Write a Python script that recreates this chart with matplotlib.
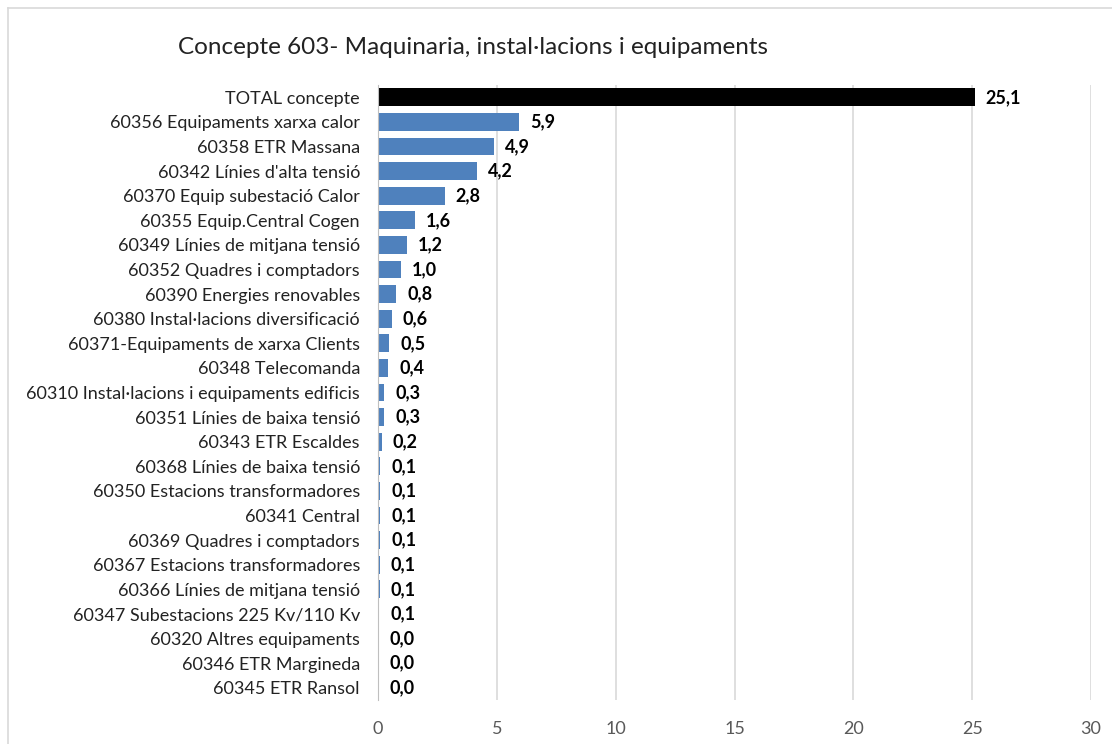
import matplotlib.pyplot as plt
from matplotlib.lines import Line2D
import numpy as np

plt.rcParams['font.family'] = ['Lato', 'DejaVu Sans']

categories = [
    'TOTAL concepte',
    '60356 Equipaments xarxa calor',
    '60358 ETR Massana',
    "60342 Línies d'alta tensió",
    '60370 Equip subestació Calor',
    '60355 Equip.Central Cogen',
    '60349 Línies de mitjana tensió',
    '60352 Quadres i comptadors',
    '60390 Energies renovables',
    '60380 Instal·lacions diversificació',
    '60371-Equipaments de xarxa Clients',
    '60348 Telecomanda',
    '60310 Instal·lacions i equipaments edificis',
    '60351 Línies de baixa tensió',
    '60343 ETR Escaldes',
    '60368 Línies de baixa tensió',
    '60350 Estacions transformadores',
    '60341 Central',
    '60369 Quadres i comptadors',
    '60367 Estacions transformadores',
    '60366 Línies de mitjana tensió',
    '60347 Subestacions 225 Kv/110 Kv',
    '60320 Altres equipaments',
    '60346 ETR Margineda',
    '60345 ETR Ransol',
]
values = [25.1, 5.92, 4.88, 4.16, 2.8, 1.56, 1.2, 0.96, 0.76, 0.58, 0.46, 0.42,
          0.27, 0.26, 0.16, 0.1, 0.09, 0.09, 0.08, 0.07, 0.07, 0.06, 0.01, 0.01, 0.0]
title = 'Concepte 603- Maquinaria, instal·lacions i equipaments'

fig = plt.figure(figsize=(11.12, 7.44), dpi=100)
ax = fig.add_axes([378 / 1112, 1 - 700 / 744, (1091 - 378) / 1112, (700 - 85) / 744])

y = np.arange(len(categories))
colors = ['black'] + ['#4F81BD'] * (len(categories) - 1)
bars = ax.barh(y, values, height=0.73, color=colors, zorder=3)

labels = [f'{v:.1f}'.replace('.', ',') for v in values]
ax.bar_label(bars, labels=labels, padding=8, fontsize=13, fontweight='bold', color='black')

ax.set_ylim(len(categories) - 0.5, -0.5)
ax.set_yticks(y)
ax.set_yticklabels(categories, fontsize=13, color='#222222')
ax.set_xlim(0, 30)
ax.set_xticks(range(0, 31, 5))
ax.tick_params(axis='x', labelsize=13, colors='#595959', length=0, pad=15)
ax.tick_params(axis='y', length=0, pad=13)
ax.grid(axis='x', color='#D9D9D9', linewidth=1.2, zorder=0)
for s in ['top', 'right', 'bottom']:
    ax.spines[s].set_visible(False)
ax.spines['left'].set_color('#BFBFBF')
ax.spines['left'].set_zorder(4)

fig.text(178 / 1112, 1 - 47 / 744, title, fontsize=17.5, va='center', ha='left', color='#222222')

# outer chart border
fig.add_artist(Line2D([8 / 1112, 1], [1 - 8 / 744] * 2, color='#D9D9D9', lw=1.2))
fig.add_artist(Line2D([8 / 1112] * 2, [0, 1 - 8 / 744], color='#D9D9D9', lw=1.2))

fig.savefig('out.png', dpi=100)
